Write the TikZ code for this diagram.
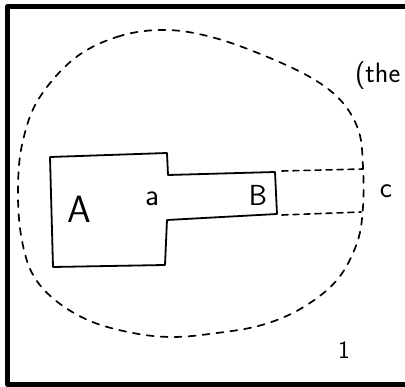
\documentclass[tikz,border=0pt]{standalone}
\usepackage{fontspec}
\usepackage{tikz}
\usetikzlibrary{positioning}
\tikzset{
  every picture/.append style={line cap=round,line join=round},
  sketch frame/.style={line width=4.5pt,line cap=butt},
  sketch body/.style={line width=1.8pt},
  sketch hull/.style={line width=1.7pt,dash pattern=on 7pt off 7pt},
  sketch gap/.style={line width=1.6pt,dash pattern=on 6pt off 5pt},
  sketch label/.style={inner sep=0pt}
}

\begin{document}
\begin{tikzpicture}[x=1pt,y=-1pt]
\useasboundingbox (0,0) rectangle (405,387);
% frame, open on the right
\draw[sketch frame] (405,6.5) -- (7.5,6.5) -- (7.5,384.5) -- (405,384.5);
% region A with the strip B
\draw[sketch body] (50,157) -- (167,153) -- (168,175) -- (275,172) -- (277,214)
  -- (167,220) -- (165,265) -- (53,267) -- cycle;
% dashed hull round everything
\draw[sketch hull] plot[smooth cycle,tension=0.6] coordinates {
  (167,30) (120,36) (75,58) (38,100) (22,145) (18,190) (21,235) (32,273)
  (55,300) (90,321) (133,333) (173,337) (217,333) (262,325) (302,308)
  (337,280) (357,243) (363,207) (363,167) (359,132) (343,103) (315,80)
  (270,58) (215,38)};
% dashed strip closing B towards the hull
\coordinate (gapNW) at (282,171);
\coordinate (gapNE) at (363,169);
\coordinate (gapSW) at (282,215);
\coordinate (gapSE) at (361,212);
\draw[sketch gap] (gapNW) -- (gapNE);
\draw[sketch gap] (gapSW) -- (gapSE);
% labels
\node[sketch label,font=\sffamily\fontsize{38}{38}\selectfont] (labA) at (79,209) {A};
\node[sketch label,font=\sffamily\fontsize{31}{31}\selectfont] (laba) at (152,199) {a};
\node[sketch label,font=\sffamily\fontsize{29}{29}\selectfont] (labB) at (258,195) {B};
\node[sketch label,font=\sffamily\fontsize{29}{29}\selectfont] (labc) at (386,191) {c};
\node[sketch label,font=\sffamily\fontsize{25}{25}\selectfont] (labone) at (344,350) {1};
\node[sketch label,font=\sffamily\fontsize{28}{28}\selectfont,anchor=west] (labthe) at (355,76) {(the};
\end{tikzpicture}
\end{document}
